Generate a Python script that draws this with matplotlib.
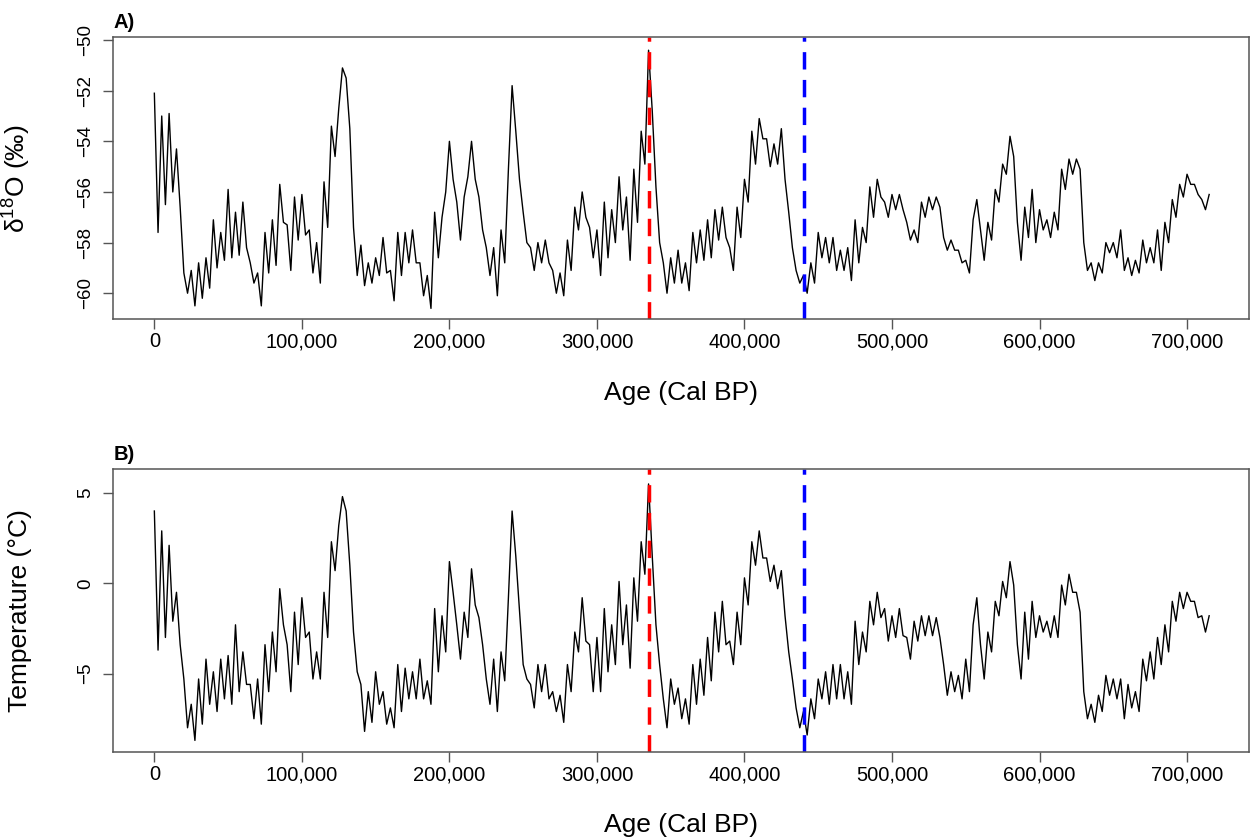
import numpy as np
import matplotlib
matplotlib.use("Agg")
import matplotlib.pyplot as plt
from matplotlib.ticker import FuncFormatter

plt.rcParams['font.family'] = ['Liberation Sans', 'DejaVu Sans']
plt.rcParams['mathtext.fontset'] = 'custom'
plt.rcParams['mathtext.rm'] = 'Liberation Sans'

# ice core record, sampled every 2.5 kyr from 0 to 715 kyr BP
age = np.arange(0, 715001, 2500)

d18O = [
    -52.1, -57.6, -53.0, -56.5, -52.9, -56.0, -54.3, -56.6,   # 0 kyr
    -59.2, -60.0, -59.1, -60.5, -58.8, -60.2, -58.6, -59.8,   # 20
    -57.1, -59.0, -57.6, -58.7, -55.9, -58.6, -56.8, -58.5,   # 40
    -56.4, -58.2, -58.8, -59.6, -59.2, -60.5, -57.6, -59.2,   # 60
    -57.1, -58.9, -55.7, -57.2, -57.3, -59.1, -56.2, -57.9,   # 80
    -56.1, -57.7, -57.5, -59.2, -58.0, -59.6, -55.6, -57.4,   # 100
    -53.4, -54.6, -52.7, -51.1, -51.5, -53.5, -57.4, -59.3,   # 120
    -58.1, -59.7, -58.8, -59.6, -58.6, -59.3, -57.8, -59.2,   # 140
    -59.1, -60.3, -57.6, -59.3, -57.6, -58.8, -57.5, -58.8,   # 160
    -58.8, -60.1, -59.3, -60.6, -56.8, -58.6, -57.0, -56.0,   # 180
    -54.0, -55.5, -56.4, -57.9, -56.2, -55.4, -54.0, -55.5,   # 200
    -56.2, -57.5, -58.2, -59.3, -58.2, -60.1, -57.5, -58.8,   # 220
    -55.1, -51.8, -53.6, -55.5, -56.8, -58.0, -58.2, -59.1,   # 240
    -58.0, -58.8, -57.9, -58.8, -59.1, -60.0, -59.2, -60.1,   # 260
    -57.9, -59.1, -56.6, -57.5, -56.0, -57.0, -57.4, -58.6,   # 280
    -57.5, -59.3, -56.4, -58.6, -56.7, -58.0, -55.4, -57.5,   # 300
    -56.2, -58.7, -55.1, -57.2, -53.6, -54.9, -50.4, -52.8,   # 320
    -55.8, -58.0, -58.8, -60.0, -58.6, -59.6, -58.3, -59.6,   # 340
    -58.8, -59.9, -57.6, -58.8, -57.5, -58.7, -57.1, -58.6,   # 360
    -56.7, -57.9, -56.6, -57.8, -58.2, -59.1, -56.6, -57.8,   # 380
    -55.5, -56.4, -53.6, -54.9, -53.1, -53.9, -53.9, -55.0,   # 400
    -54.1, -54.9, -53.5, -55.5, -56.8, -58.2, -59.1, -59.6,   # 420
    -59.3, -60.0, -58.8, -59.6, -57.6, -58.6, -57.8, -58.8,   # 440
    -57.8, -59.1, -58.3, -59.1, -58.2, -59.5, -57.1, -58.8,   # 460
    -57.4, -58.0, -55.8, -57.0, -55.5, -56.2, -56.4, -57.0,   # 480
    -56.1, -56.7, -56.1, -56.7, -57.2, -57.9, -57.5, -58.0,   # 500
    -56.4, -57.0, -56.2, -56.7, -56.2, -56.6, -57.8, -58.3,   # 520
    -57.9, -58.3, -58.3, -58.8, -58.7, -59.2, -57.1, -56.3,   # 540
    -57.5, -58.7, -57.2, -57.9, -55.9, -56.4, -54.9, -55.3,   # 560
    -53.8, -54.6, -57.2, -58.7, -56.6, -57.8, -55.9, -58.0,   # 580
    -56.7, -57.5, -57.1, -57.8, -56.8, -57.5, -55.1, -55.9,   # 600
    -54.7, -55.3, -54.7, -55.1, -58.0, -59.1, -58.8, -59.5,   # 620
    -58.8, -59.2, -58.0, -58.4, -58.0, -58.6, -57.5, -59.1,   # 640
    -58.6, -59.3, -58.7, -59.2, -57.9, -58.8, -58.2, -58.8,   # 660
    -57.5, -59.1, -57.2, -58.0, -56.3, -57.0, -55.7, -56.2,   # 680
    -55.3, -55.7, -55.7, -56.1, -56.3, -56.7, -56.1,          # 700
]

temp = [
    4.0, -3.7, 2.9, -3.0, 2.1, -2.1, -0.5, -3.4,      # 0 kyr
    -5.3, -8.0, -6.7, -8.7, -5.3, -7.8, -4.2, -6.7,   # 20
    -4.9, -7.1, -4.2, -6.4, -4.0, -6.7, -2.3, -6.0,   # 40
    -3.8, -5.6, -5.6, -7.5, -5.3, -7.8, -3.4, -6.0,   # 60
    -2.7, -4.9, -0.3, -2.3, -3.4, -6.0, -1.6, -4.5,   # 80
    -0.8, -3.0, -2.7, -5.3, -3.8, -5.3, -0.5, -3.0,   # 100
    2.3, 0.7, 3.2, 4.8, 4.0, 1.0, -2.7, -4.9,         # 120
    -5.6, -8.2, -6.0, -7.7, -4.9, -6.7, -6.0, -7.8,   # 140
    -6.9, -8.0, -4.5, -7.1, -4.7, -6.4, -4.9, -6.4,   # 160
    -4.2, -6.4, -5.4, -6.7, -1.4, -4.9, -1.8, -3.8,   # 180
    1.2, -0.5, -2.3, -4.2, -1.6, -3.0, 0.8, -1.2,     # 200
    -1.9, -3.4, -5.3, -6.7, -4.2, -7.1, -3.8, -5.4,   # 220
    -0.8, 4.0, 1.5, -1.5, -4.5, -5.3, -5.6, -6.9,     # 240
    -4.5, -6.0, -4.5, -6.4, -6.0, -7.1, -6.2, -7.7,   # 260
    -4.5, -6.0, -2.7, -3.8, -0.8, -3.2, -3.4, -6.0,   # 280
    -3.0, -6.0, -1.4, -4.9, -2.3, -4.5, 0.1, -3.4,    # 300
    -1.2, -4.7, 0.3, -2.1, 2.3, 0.5, 5.5, 1.5,        # 320
    -2.3, -4.5, -6.4, -8.0, -5.3, -6.7, -5.8, -7.5,   # 340
    -6.4, -7.8, -4.5, -6.7, -4.2, -6.2, -3.0, -5.4,   # 360
    -1.6, -3.8, -1.0, -3.4, -3.2, -4.5, -1.6, -3.4,   # 380
    0.3, -1.2, 2.3, 1.0, 2.9, 1.4, 1.4, 0.1,          # 400
    1.0, -0.3, 0.7, -1.8, -3.8, -5.3, -6.9, -8.0,     # 420
    -7.1, -8.4, -6.4, -7.5, -5.3, -6.4, -4.9, -6.7,   # 440
    -4.5, -6.4, -4.5, -6.4, -4.9, -6.7, -2.1, -4.5,   # 460
    -2.7, -3.8, -1.0, -2.3, -0.5, -1.9, -1.4, -3.2,   # 480
    -1.8, -3.0, -1.4, -2.9, -3.0, -4.2, -2.1, -3.2,   # 500
    -1.8, -2.9, -1.8, -2.9, -1.9, -3.0, -4.5, -6.2,   # 520
    -4.9, -6.0, -5.1, -6.4, -4.2, -6.0, -2.3, -0.8,   # 540
    -3.4, -5.3, -2.7, -3.8, -1.0, -1.8, 0.1, -0.8,    # 560
    1.2, -0.1, -3.4, -5.3, -1.6, -4.2, -1.0, -3.0,    # 580
    -1.8, -2.7, -2.1, -3.0, -1.8, -3.0, -0.1, -1.2,   # 600
    0.5, -0.5, -0.5, -1.6, -6.0, -7.5, -6.7, -7.7,    # 620
    -6.2, -7.1, -5.1, -6.2, -5.3, -6.4, -5.3, -7.5,   # 640
    -5.6, -6.9, -6.0, -7.1, -4.2, -5.4, -3.8, -5.3,   # 660
    -3.0, -4.5, -2.3, -3.8, -1.0, -2.1, -0.5, -1.4,   # 680
    -0.5, -1.0, -1.0, -1.9, -1.8, -2.7, -1.8,         # 700
]

red_age = 335500
blue_age = 440500

x_ticks = [0, 100000, 200000, 300000, 400000, 500000, 600000, 700000]
d18O_ticks = [-60, -58, -56, -54, -52, -50]
temp_ticks = [-5, 0, 5]

fig = plt.figure(figsize=(12.51, 8.4), dpi=100)
axA = fig.add_axes([0.0906, 0.6199, 0.9078, 0.3357])
axB = fig.add_axes([0.0906, 0.1048, 0.9078, 0.3365])


def panel(ax, y, yticks, ylim, ylabel):
    ax.plot(age, y, color='black', lw=1.0)
    ax.axvline(red_age, color='#ff0000', lw=2.5, ls=(0, (5, 3)))
    ax.axvline(blue_age, color='#0000ff', lw=2.5, ls=(0, (5, 3)))
    ax.set_xlim(-27800, 742000)
    ax.set_ylim(*ylim)
    ax.set_xticks(x_ticks)
    ax.xaxis.set_major_formatter(FuncFormatter(lambda v, p: f"{int(v):,}"))
    ax.set_yticks(yticks)
    ax.tick_params(axis='x', length=7, width=1, color='#555555', pad=2.5, labelsize=14.5)
    ax.tick_params(axis='y', length=7.5, width=1, color='#555555', pad=6, labelsize=13.5)
    for lab in ax.get_yticklabels():
        lab.set_rotation(90)
        lab.set_va('center')
    for s in ax.spines.values():
        s.set_color('#555555')
        s.set_linewidth(1.1)
    ax.set_ylabel(ylabel, fontsize=19)
    ax.yaxis.set_label_coords(-0.072, 0.5)


panel(axA, d18O, d18O_ticks, (-61.03, -49.89), r'δ$^{\mathrm{18}}$O (‰)')
panel(axB, temp, temp_ticks, (-9.34, 6.31), 'Temperature (°C)')

fig.text(0.5444, 1 - 393 / 840, 'Age (Cal BP)', fontsize=19, ha='center', va='center')
fig.text(0.5444, 1 - 825 / 840, 'Age (Cal BP)', fontsize=19, ha='center', va='center')
fig.text(0.0906, 1 - 28 / 840, 'A)', fontsize=14.5, fontweight='bold', ha='left', va='baseline')
fig.text(0.0906, 1 - 460 / 840, 'B)', fontsize=14.5, fontweight='bold', ha='left', va='baseline')

fig.savefig('out.png', dpi=100)
